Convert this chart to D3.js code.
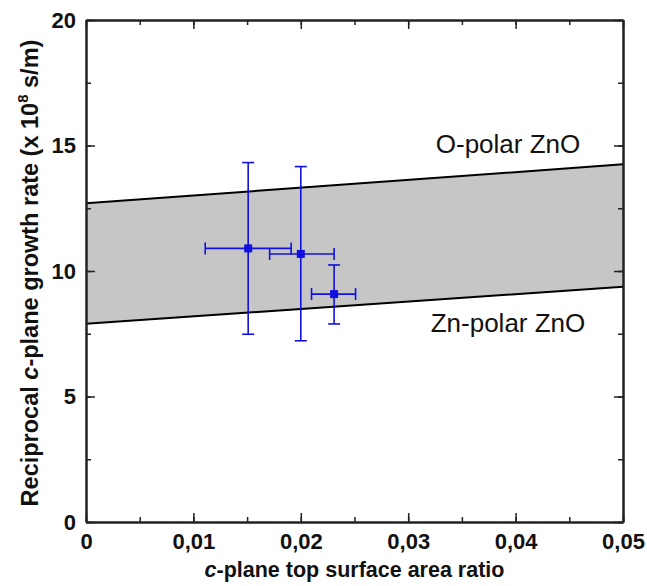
<!DOCTYPE html>
<html><head><meta charset="utf-8">
<script src="https://cdn.jsdelivr.net/npm/d3@7"></script>
<style>body{margin:0;background:#fff}svg{display:block}text{font-family:"Liberation Sans",Arial,sans-serif}</style>
</head><body>
<svg id="c" width="647" height="586"></svg>
<script>
const xTicks = [0, 0.01, 0.02, 0.03, 0.04, 0.05];
const xTickLabels = ["0", "0,01", "0,02", "0,03", "0,04", "0,05"];
const yTicks = [0, 5, 10, 15, 20];
const bandX = [0, 0.05];
const bandUpper = [12.7, 14.25];
const bandLower = [7.9, 9.37];
const ptX = [0.0151, 0.0200, 0.0231];
const ptY = [10.9, 10.68, 9.08];
const ptYLo = [7.48, 7.22, 7.89];
const ptYHi = [14.32, 14.16, 10.24];
const ptXLo = [0.0111, 0.0171, 0.0210];
const ptXHi = [0.0191, 0.0231, 0.0251];
const bandLabels = ["O-polar ZnO", "Zn-polar ZnO"];

const svg = d3.select("#c");
const L = 86, R = 623, T = 20, B = 522;
const x = d3.scaleLinear().domain([0, 0.05]).range([L, R]);
const y = d3.scaleLinear().domain([0, 20]).range([B, T]);

// band
const bandData = bandX.map((v, i) => ({x: v, lo: bandLower[i], hi: bandUpper[i]}));
svg.append("path").datum(bandData)
  .attr("d", d3.area().x(d => x(d.x)).y0(d => y(d.lo)).y1(d => y(d.hi)))
  .attr("fill", "#c6c6c6");
svg.append("path").datum(bandData)
  .attr("d", d3.line().x(d => x(d.x)).y(d => y(d.hi)))
  .attr("fill", "none").attr("stroke", "#000").attr("stroke-width", 2);
svg.append("path").datum(bandData)
  .attr("d", d3.line().x(d => x(d.x)).y(d => y(d.lo)))
  .attr("fill", "none").attr("stroke", "#000").attr("stroke-width", 2);

// axes
const xMinor = d3.range(0, 0.0501, 0.005);
const yMinor = d3.range(0, 20.01, 2.5);
function addAxis(axisFn, scale, vals, size, tr, labels) {
  const a = axisFn(scale).tickValues(vals).tickSizeInner(size).tickSizeOuter(0).tickPadding(8);
  if (labels) a.tickFormat((d, i) => labels[i]); else a.tickFormat("");
  const g = svg.append("g").attr("transform", tr).call(a);
  g.select(".domain").attr("stroke", "#222").attr("stroke-width", 2);
  g.selectAll(".tick line").attr("stroke", "#222").attr("stroke-width", 1.5);
  g.selectAll("text").attr("font-size", 22).attr("font-weight", "bold").attr("fill", "#111");
  return g;
}
addAxis(d3.axisBottom, x, xMinor, -5, `translate(0,${B})`);
const gx = addAxis(d3.axisBottom, x, xTicks, -9, `translate(0,${B})`, xTickLabels);
gx.selectAll("text").attr("dy", null).attr("y", 27);
addAxis(d3.axisTop, x, xMinor, -5, `translate(0,${T})`);
addAxis(d3.axisTop, x, xTicks, -9, `translate(0,${T})`);
addAxis(d3.axisLeft, y, yMinor, -5, `translate(${L},0)`);
const gy = addAxis(d3.axisLeft, y, yTicks, -9, `translate(${L},0)`, yTicks.map(String));
gy.selectAll("text").attr("x", -10);
addAxis(d3.axisRight, y, yMinor, -5, `translate(${R},0)`);
addAxis(d3.axisRight, y, yTicks, -9, `translate(${R},0)`);

// error bars & points
const blue = "#1010e0";
const pts = ptX.map((v, i) => ({x: v, y: ptY[i], ylo: ptYLo[i], yhi: ptYHi[i], xlo: ptXLo[i], xhi: ptXHi[i]}));
const eg = svg.append("g").attr("stroke", blue).attr("stroke-width", 1.6).attr("fill", "none");
const cap = 6;
pts.forEach(p => {
  eg.append("line").attr("x1", x(p.x)).attr("x2", x(p.x)).attr("y1", y(p.ylo)).attr("y2", y(p.yhi));
  eg.append("line").attr("x1", x(p.x) - cap).attr("x2", x(p.x) + cap).attr("y1", y(p.yhi)).attr("y2", y(p.yhi));
  eg.append("line").attr("x1", x(p.x) - cap).attr("x2", x(p.x) + cap).attr("y1", y(p.ylo)).attr("y2", y(p.ylo));
  eg.append("line").attr("x1", x(p.xlo)).attr("x2", x(p.xhi)).attr("y1", y(p.y)).attr("y2", y(p.y));
  eg.append("line").attr("x1", x(p.xlo)).attr("x2", x(p.xlo)).attr("y1", y(p.y) - cap).attr("y2", y(p.y) + cap);
  eg.append("line").attr("x1", x(p.xhi)).attr("x2", x(p.xhi)).attr("y1", y(p.y) - cap).attr("y2", y(p.y) + cap);
});
svg.append("g").selectAll("rect").data(pts).join("rect")
  .attr("x", d => x(d.x) - 4).attr("y", d => y(d.y) - 4).attr("width", 8).attr("height", 8)
  .attr("fill", blue);

// band labels
svg.append("text").attr("x", 508).attr("y", 153).attr("text-anchor", "middle")
  .attr("font-size", 26).attr("fill", "#111").text(bandLabels[0]);
svg.append("text").attr("x", 508).attr("y", 332).attr("text-anchor", "middle")
  .attr("font-size", 26).attr("fill", "#111").text(bandLabels[1]);

// axis titles
const xt = svg.append("text").attr("x", (L + R) / 2).attr("y", 577).attr("text-anchor", "middle")
  .attr("font-size", 21.5).attr("font-weight", "bold").attr("fill", "#111");
xt.append("tspan").attr("font-style", "italic").text("c");
xt.append("tspan").text("-plane top surface area ratio");

const yt = svg.append("text").attr("transform", `translate(38,${(T + B) / 2 + 2}) rotate(-90)`)
  .attr("text-anchor", "middle").attr("font-size", 23.5).attr("font-weight", "bold").attr("fill", "#111");
yt.append("tspan").text("Reciprocal ");
yt.append("tspan").attr("font-style", "italic").text("c");
yt.append("tspan").text("-plane growth rate (x 10");
yt.append("tspan").attr("font-size", 15).attr("dy", -10).text("8");
yt.append("tspan").attr("dy", 10).text(" s/m)");
</script>
</body></html>
